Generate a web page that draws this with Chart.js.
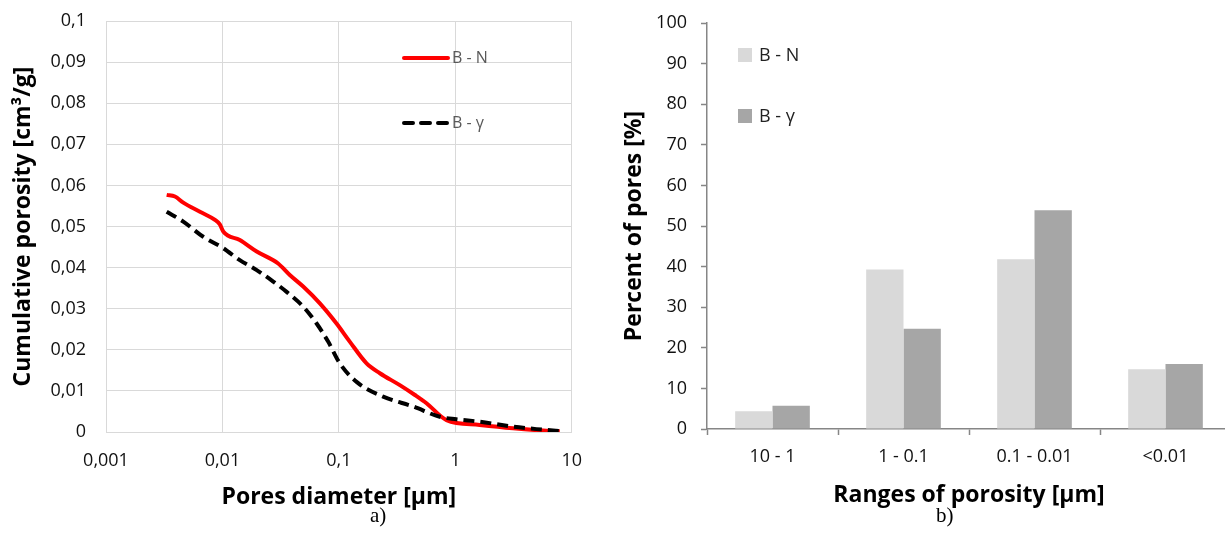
<!DOCTYPE html>
<html>
<head>
<meta charset="utf-8">
<script src="https://cdn.jsdelivr.net/npm/chart.js"></script>
<title>Porosity</title>
<style>
  html, body { margin: 0; padding: 0; background: #fff; overflow: hidden; }
  body { width: 1225px; height: 533px; position: relative; }
  .box { position: absolute; top: 0; }
  .cap { position: absolute; font-family: "Liberation Serif", serif; font-size: 21px; color: #000; }
</style>
</head>
<body>
<div class="box" style="left:0"><canvas id="poro" width="600" height="533"></canvas></div>
<div class="box" style="left:600px"><canvas id="ranges" width="640" height="533"></canvas></div>
<div class="cap" style="left:370px;top:503px">a)</div>
<div class="cap" style="left:936px;top:503px">b)</div>

<script>
// a) cumulative porosity vs pore diameter (read off the picture)
var nDiam = [0.00332, 0.00391, 0.00461, 0.00641, 0.00863, 0.0095, 0.0102, 0.0141, 0.0197, 0.0301, 0.0379, 0.0494, 0.0687, 0.0955, 0.124, 0.173, 0.225, 0.334, 0.45, 0.566, 0.84, 1.62, 3.13, 6.07, 7.9];
var nPoro = [0.0577, 0.0573, 0.0558, 0.0536, 0.0516, 0.0505, 0.0487, 0.0467, 0.0439, 0.0410, 0.0382, 0.0354, 0.0313, 0.0264, 0.0220, 0.0167, 0.0143, 0.0114, 0.0090, 0.0070, 0.0029, 0.0017, 0.0009, 0.0003, 0.0002];
var gDiam = [0.00332, 0.00461, 0.00684, 0.0102, 0.0141, 0.0197, 0.0273, 0.0356, 0.0494, 0.0644, 0.0809, 0.102, 0.142, 0.240, 0.435, 0.736, 1.02, 1.62, 3.13, 4.98, 8.16];
var gPoro = [0.0536, 0.0512, 0.0475, 0.0447, 0.0418, 0.0394, 0.0366, 0.0341, 0.0305, 0.0264, 0.0220, 0.0167, 0.0122, 0.0086, 0.0062, 0.0037, 0.0031, 0.0025, 0.0013, 0.0007, 0.0002];
var diamTicks = [0.001, 0.01, 0.1, 1, 10];

// b) share of pores per range
var ranges = ['10 - 1', '1 - 0.1', '0.1 - 0.01', '<0.01'];
var pctN = [4.4, 39.3, 41.8, 14.7];
var pctG = [5.7, 24.7, 53.9, 16.0];

var tickFont = { family: 'Open Sans', size: 18 };
var titleFont = { family: 'Open Sans', size: 23, weight: 'bold' };

function pairs(xs, ys) {
  return xs.map(function (x, i) { return { x: x, y: ys[i] }; });
}

// fixed-width y axis; tick padding must not push the plot area down
function yFit(w) {
  return function (s) { s.width = w; s.paddingTop = 0; s.paddingBottom = 0; };
}

// legend drawn inside the plot area
var lineKey = {
  id: 'lineKey',
  afterDraw: function (chart) {
    var c = chart.ctx, a = chart.chartArea;
    chart.data.datasets.forEach(function (ds, i) {
      var y = a.top + 37 + i * 65;
      c.save();
      c.strokeStyle = ds.borderColor;
      c.lineWidth = ds.borderWidth;
      c.lineCap = 'round';
      c.setLineDash(ds.borderDash ? [9, 8] : []);
      c.beginPath();
      c.moveTo(a.left + 298, y);
      c.lineTo(a.left + 342, y);
      c.stroke();
      c.setLineDash([]);
      c.fillStyle = '#595959';
      c.font = '16px "Open Sans"';
      c.textBaseline = 'middle';
      c.fillText(ds.label, a.left + 346, y);
      c.restore();
    });
  }
};

var boxKey = {
  id: 'boxKey',
  afterDraw: function (chart) {
    var c = chart.ctx, a = chart.chartArea;
    chart.data.datasets.forEach(function (ds, i) {
      var y = a.top + 25 + i * 61;
      c.save();
      c.fillStyle = ds.backgroundColor;
      c.fillRect(a.left + 31, y, 14, 14);
      c.fillStyle = '#222';
      c.font = '18px "Open Sans"';
      c.textBaseline = 'middle';
      c.fillText(ds.label, a.left + 52, y + 8);
      c.restore();
    });
  }
};

new Chart(document.getElementById('poro'), {
  type: 'line',
  data: {
    datasets: [
      { label: 'B - N', data: pairs(nDiam, nPoro), borderColor: '#ff0000', borderWidth: 4,
        pointRadius: 0, cubicInterpolationMode: 'monotone', order: 1 },
      { label: 'B - \u03b3', data: pairs(gDiam, gPoro), borderColor: '#000000', borderWidth: 4,
        borderDash: [11, 6], pointRadius: 0, cubicInterpolationMode: 'monotone', order: 0 }
    ]
  },
  options: {
    responsive: false,
    animation: false,
    layout: { padding: { top: 21, right: 28, left: 0, bottom: 0 } },
    plugins: { legend: { display: false }, tooltip: { enabled: false } },
    scales: {
      x: {
        type: 'logarithmic', min: 0.001, max: 10,
        afterBuildTicks: function (s) { s.ticks = diamTicks.map(function (v) { return { value: v }; }); },
        afterFit: function (s) { s.height = 101; },
        grid: { color: '#d9d9d9', drawTicks: false },
        border: { color: '#d9d9d9' },
        ticks: { font: tickFont, color: '#111', padding: 18, maxRotation: 0,
          callback: function (v) { return String(v).replace('.', ','); } },
        title: { display: true, text: 'Pores diameter [\u00b5m]', font: titleFont, color: '#000',
          padding: { top: 0, bottom: 22 } }
      },
      y: {
        min: 0, max: 0.1,
        afterFit: yFit(106),
        grid: { color: '#d9d9d9', drawTicks: false },
        border: { color: '#d9d9d9' },
        ticks: { stepSize: 0.01, font: tickFont, color: '#111', padding: 20,
          callback: function (v) { return String(+v.toFixed(2)).replace('.', ','); } },
        title: { display: true, text: 'Cumulative porosity [cm\u00b3/g]', font: titleFont, color: '#000',
          padding: { top: 10, bottom: 0 } }
      }
    }
  },
  plugins: [lineKey]
});

new Chart(document.getElementById('ranges'), {
  type: 'bar',
  data: {
    labels: ranges,
    datasets: [
      { label: 'B - N', data: pctN, backgroundColor: '#d9d9d9' },
      { label: 'B - \u03b3', data: pctG, backgroundColor: '#a6a6a6' }
    ]
  },
  options: {
    responsive: false,
    animation: false,
    layout: { padding: { top: 23, right: 9, left: 0, bottom: 0 } },
    datasets: { bar: { categoryPercentage: 0.57, barPercentage: 1 } },
    plugins: { legend: { display: false }, tooltip: { enabled: false } },
    scales: {
      x: {
        afterFit: function (s) { s.height = 104; },
        grid: { offset: true, drawOnChartArea: false, tickLength: 6, tickColor: '#868686', tickWidth: 1.5 },
        border: { color: '#868686', width: 1.5 },
        ticks: { font: tickFont, color: '#111', padding: 11 },
        title: { display: true, text: 'Ranges of porosity [\u00b5m]', font: titleFont, color: '#000',
          padding: { top: 0, bottom: 24 } }
      },
      y: {
        min: 0, max: 100,
        afterFit: yFit(107),
        grid: { drawOnChartArea: false, tickLength: 6, tickColor: '#868686', tickWidth: 1.5 },
        border: { color: '#868686', width: 1.5 },
        ticks: { stepSize: 10, font: tickFont, color: '#111', padding: 14 },
        title: { display: true, text: 'Percent of pores [%]', font: titleFont, color: '#000',
          padding: { top: 21, bottom: 0 } }
      }
    }
  },
  plugins: [boxKey]
});
</script>
</body>
</html>
